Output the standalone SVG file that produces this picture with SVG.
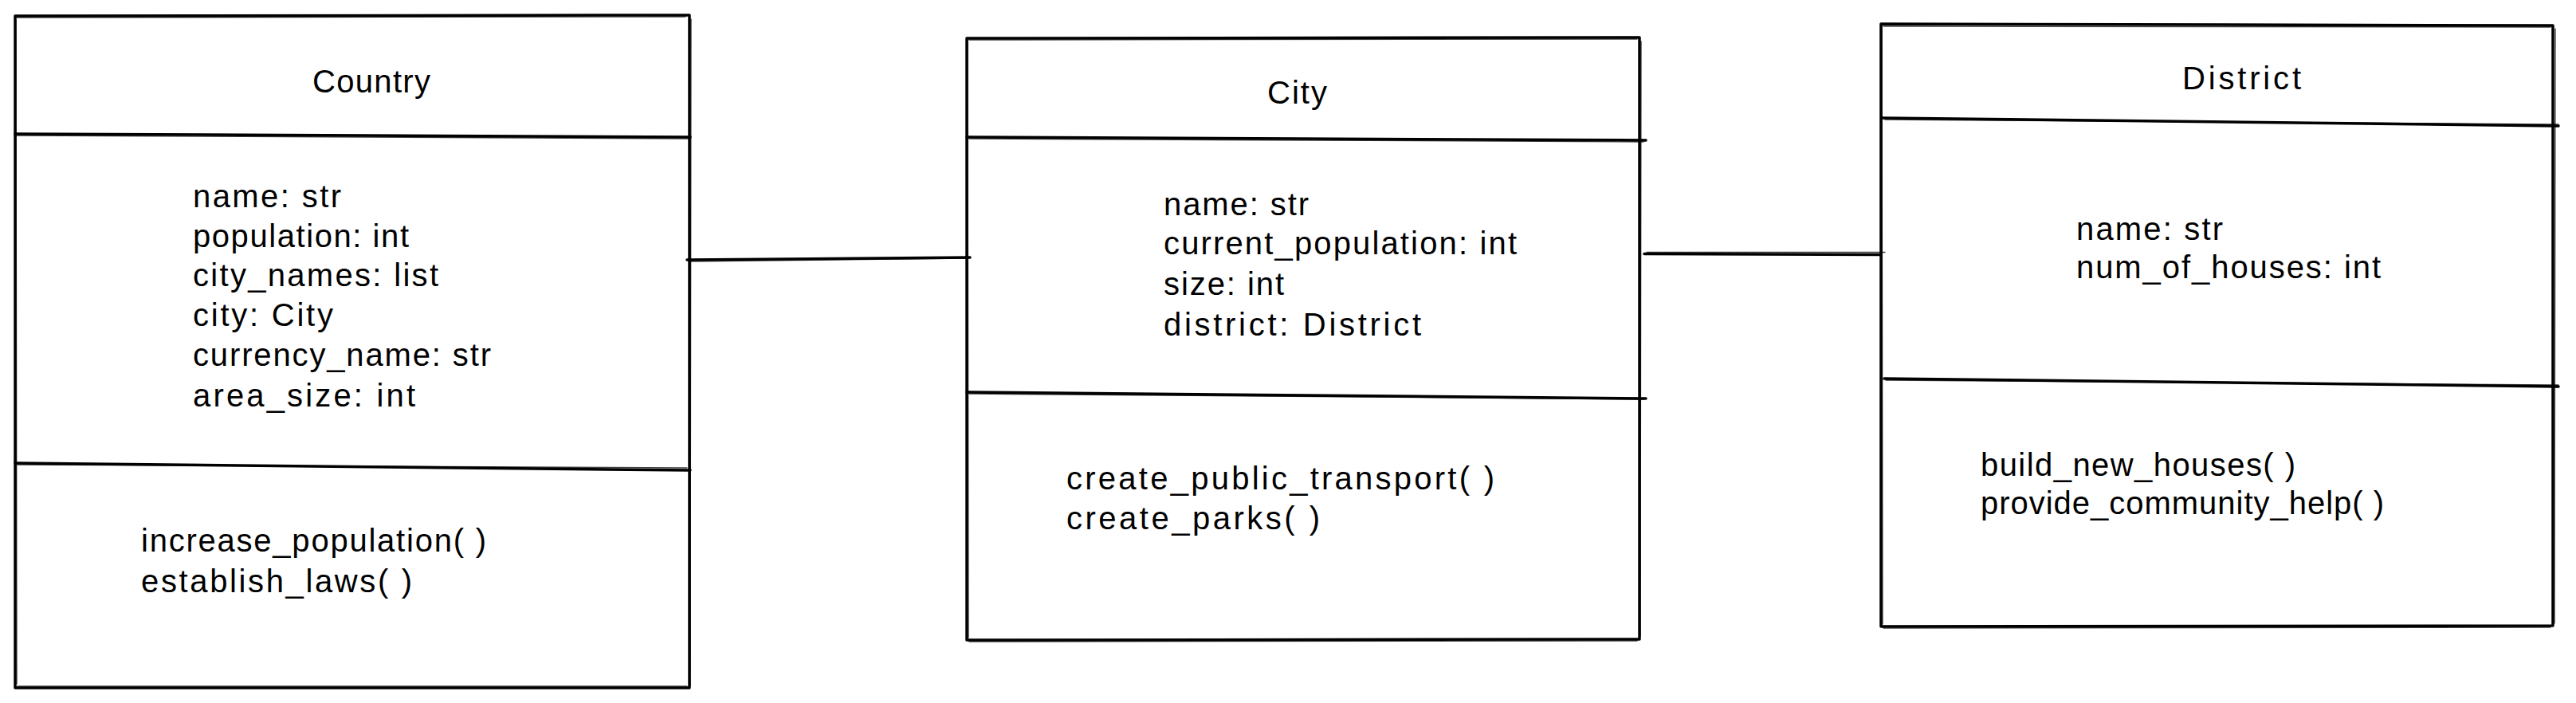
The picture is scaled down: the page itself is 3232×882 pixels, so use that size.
<svg xmlns="http://www.w3.org/2000/svg" width="3232" height="882" viewBox="0 0 3232 882">
<style>
.e{fill:none;stroke:#000;stroke-width:3.5;stroke-linecap:round;stroke-linejoin:round}
.g{fill:none;stroke:#000;stroke-width:1.4;stroke-linecap:round;opacity:0.75}
.t{font-family:"Liberation Sans",Arial,sans-serif;font-size:40px;fill:#000}
</style>
<rect x="0" y="0" width="3232" height="882" fill="#fff"/>
<g id="connectors">
<path class="e" d="M862 326 L1217 323"/>
<path class="g" d="M864 328 L1214 324"/>
<path class="e" d="M2063 318.5 L2358 319.5"/>
<path class="g" d="M2066 316.5 L2365 316.5"/>
</g>
<g id="country">
<path class="e" d="M19 20 L865 19 L865 863 L19 863 Z"/>
<path class="g" d="M21 22 L860 21 M867 24 L866 860 M862 861 L22 861 M21 858 L20 25"/>
<path class="e" d="M19 168 L866 172"/>
<path class="g" d="M21 170 L866 174"/>
<path class="e" d="M19 581 L866 590"/>
<path class="g" d="M22 583 L862 587"/>
<text class="t" x="392" y="116" textLength="148">Country</text>
<text class="t" x="242" y="260" textLength="186">name: str</text>
<text class="t" x="242" y="310" textLength="271">population: int</text>
<text class="t" x="242" y="359" textLength="308">city_names: list</text>
<text class="t" x="242" y="409" textLength="176">city: City</text>
<text class="t" x="242" y="459" textLength="374">currency_name: str</text>
<text class="t" x="242" y="510" textLength="279">area_size: int</text>
<text class="t" x="177" y="692" textLength="433">increase_population( )</text>
<text class="t" x="177" y="743" textLength="340">establish_laws( )</text>
</g>
<g id="city">
<path class="e" d="M1213 48 L2057 47 L2057 802 L1213 803 Z"/>
<path class="g" d="M1216 50 L2054 49 M2059 52 L2058 798 M2054 804 L1216 805 M1215 800 L1214 52"/>
<path class="e" d="M1213 172 L2065 176"/>
<path class="g" d="M1216 174 L2062 178"/>
<path class="e" d="M1213 492 L2065 500"/>
<path class="g" d="M1216 494 L2062 501"/>
<text class="t" x="1590" y="130" textLength="75">City</text>
<text class="t" x="1460" y="270" textLength="182">name: str</text>
<text class="t" x="1460" y="319" textLength="443">current_population: int</text>
<text class="t" x="1460" y="370" textLength="151">size: int</text>
<text class="t" x="1460" y="421" textLength="323">district: District</text>
<text class="t" x="1338" y="614" textLength="537">create_public_transport( )</text>
<text class="t" x="1338" y="664" textLength="318">create_parks( )</text>
</g>
<g id="district">
<path class="e" d="M2360 30 L3203 32 L3203 785 L2360 786 Z"/>
<path class="g" d="M2363 33 L3200 34 M3206 36 L3205 782 M3200 787 L2363 788 M2362 783 L2361 34"/>
<path class="e" d="M2362 148 L3210 158"/>
<path class="g" d="M2365 150 L3210 156"/>
<path class="e" d="M2364 475 L3210 485"/>
<path class="g" d="M2366 477 L3210 483"/>
<text class="t" x="2738" y="112" textLength="149">District</text>
<text class="t" x="2605" y="301" textLength="184">name: str</text>
<text class="t" x="2605" y="349" textLength="382">num_of_houses: int</text>
<text class="t" x="2485" y="597" textLength="395">build_new_houses( )</text>
<text class="t" x="2485" y="645" textLength="506">provide_community_help( )</text>
</g>
</svg>
